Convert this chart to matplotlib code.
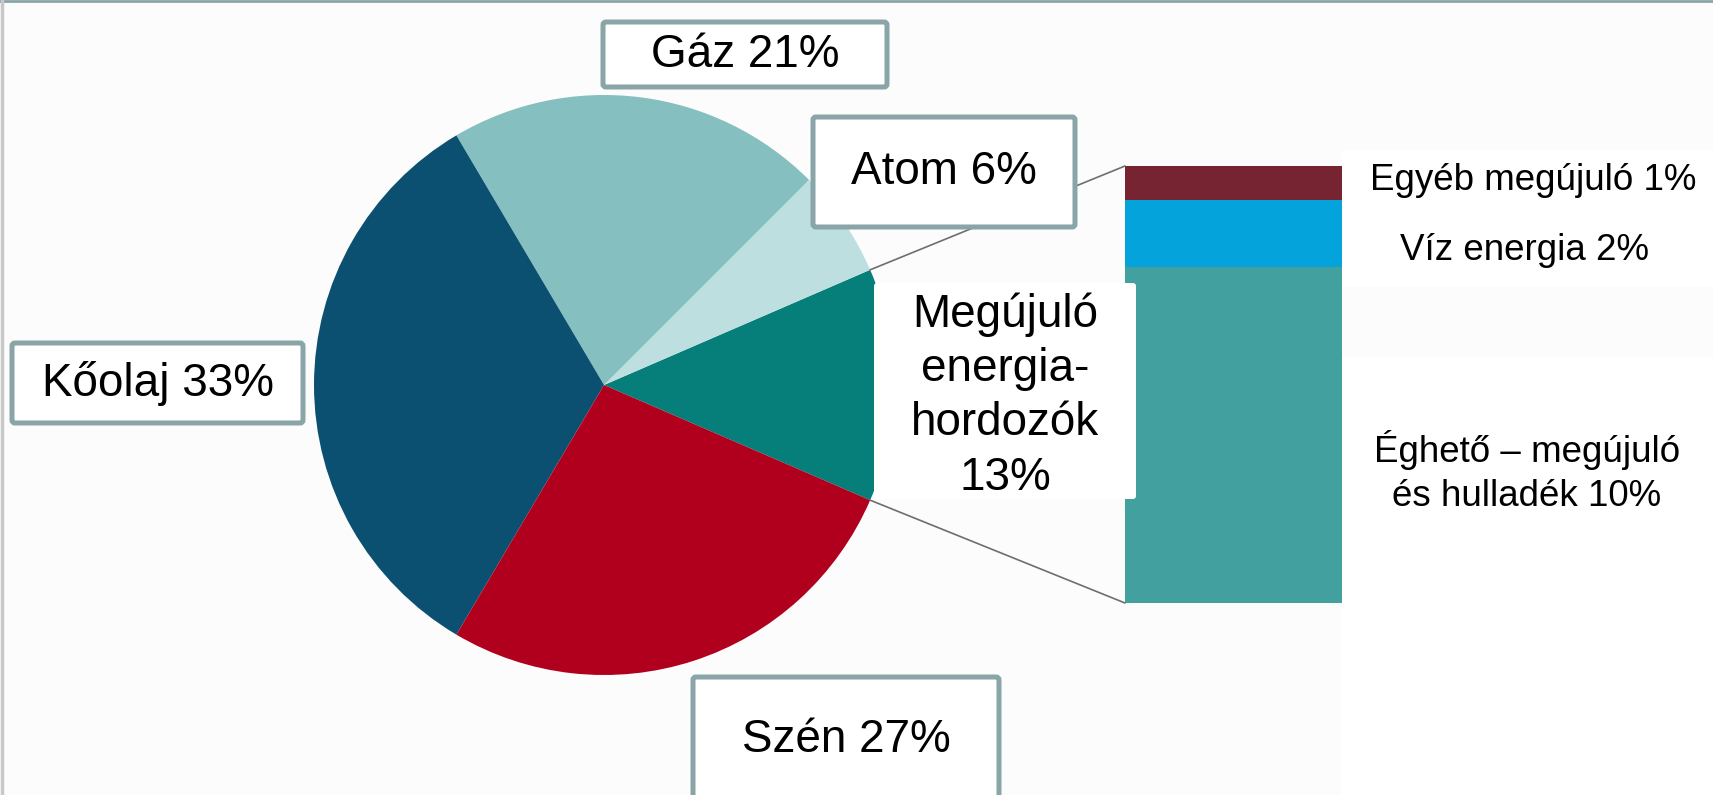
import numpy as np
import matplotlib.pyplot as plt
from matplotlib.patches import FancyBboxPatch, Rectangle, ConnectionPatch

plt.rcParams['font.family'] = ['Liberation Sans', 'DejaVu Sans']

# Adatok
szeletek = ["Megújuló", "Atom", "Gáz", "Kőolaj", "Szén"]
aranyok = [13, 6, 21, 33, 27]
szinek = ["#067e7a", "#bddfe0", "#85bfc0", "#0b5070", "#b0001e"]

megujulo_nevek = ["Éghető – megújuló\nés hulladék", "Víz energia", "Egyéb megújuló"]
megujulo_aranyok = [10, 2, 1]
megujulo_szinek = ["#42a09f", "#04a3dc", "#772432"]

W, H = 1713, 795


def px(x, y):
    # pixel koordinata (felulrol) -> adat koordinata
    return x, H - y


fig = plt.figure(figsize=(W / 100, H / 100), dpi=100, facecolor="#fbfcfb")
ax = fig.add_axes([0, 0, 1, 1])
ax.set_zorder(1)

# Kordiagram
kozep = px(604, 385)
wedges, _ = ax.pie(aranyok, colors=szinek, startangle=-aranyok[0] / sum(aranyok) * 180,
                   counterclock=True, center=kozep, radius=290,
                   wedgeprops=dict(linewidth=0))
ax.set_xlim(0, W)
ax.set_ylim(0, H)
ax.set_aspect("auto")
ax.axis("off")

# Oszlop a megújulókhoz
bar_ax = fig.add_axes([1125 / W, (H - 603) / H, 217 / W, 437 / H])
bar_ax.set_zorder(0)
alap = 0
for nev, ertek, szin in zip(megujulo_nevek, megujulo_aranyok, megujulo_szinek):
    bar_ax.bar(0, ertek, bottom=alap, width=1, color=szin, linewidth=0)
    alap += ertek
bar_ax.set_xlim(-0.5, 0.5)
bar_ax.set_ylim(0, sum(megujulo_aranyok))
bar_ax.axis("off")

# Osszekoto vonalak
w0 = wedges[0]
for theta, y_bar in [(w0.theta2, sum(megujulo_aranyok)), (w0.theta1, 0)]:
    pont = (w0.center[0] + w0.r * np.cos(np.radians(theta)),
            w0.center[1] + w0.r * np.sin(np.radians(theta)))
    cp = ConnectionPatch(xyA=(-0.5, y_bar), coordsA=bar_ax.transData,
                         xyB=pont, coordsB=ax.transData,
                         color="#6e6e6e", lw=1.2, zorder=2)
    ax.add_artist(cp)

# Feher hatter a jobb oldali feliratok mogott
ax.add_patch(Rectangle(px(1342, 287), W - 1342, 137, fc="white", ec="none", zorder=1))
ax.add_patch(Rectangle(px(1342, 795), W - 1342, 795 - 357, fc="white", ec="none", zorder=1))

# Keretes feliratok (bal felso x, y, szelesseg, magassag pixelben)
dobozok = {
    "Gáz": (603, 22, 284, 65),
    "Atom": (813, 117, 262, 110),
    "Kőolaj": (12, 343, 291, 80),
    "Szén": (693, 677, 306, 140),
}
szoveg_y = {"Gáz": 55, "Atom": 172, "Kőolaj": 383, "Szén": 740}
for nev, ertek in zip(szeletek, aranyok):
    if nev not in dobozok:
        continue
    x0, y0, bw, bh = dobozok[nev]
    ax.add_patch(FancyBboxPatch(px(x0, y0 + bh), bw, bh,
                                boxstyle="round,pad=0,rounding_size=3",
                                fc="white", ec="#8aa5a8", lw=3.6, zorder=3))
    ax.text(*px(x0 + bw / 2, szoveg_y[nev]), f"{nev} {ertek}%", fontsize=33,
            ha="center", va="center", zorder=4)

# Megújuló felirat
ax.add_patch(FancyBboxPatch(px(874, 499), 262, 216,
                            boxstyle="round,pad=0,rounding_size=3",
                            fc="white", ec="none", zorder=3))
ax.text(*px(1005, 396), f"Megújuló\nenergia-\nhordozók\n{aranyok[0]}%", fontsize=33,
        ha="center", va="center", linespacing=1.3, zorder=4)

# Jobb oldali feliratok
jobb_pos = [(1527, 472), (1524, 251), (1533, 180)]
for nev, ertek, (x, y) in zip(megujulo_nevek, megujulo_aranyok, jobb_pos):
    ax.text(*px(x, y), f"{nev} {ertek}%", fontsize=26.5, ha="center", va="center",
            linespacing=1.3, zorder=4)

# Keret
ax.plot([0, W], [H - 1, H - 1], color="#8aa5a8", lw=2, zorder=5)
ax.plot([1.5, 1.5], [0, H], color="#c8c8c8", lw=2.5, zorder=5)

plt.savefig("out.png", dpi=100, facecolor=fig.get_facecolor())
